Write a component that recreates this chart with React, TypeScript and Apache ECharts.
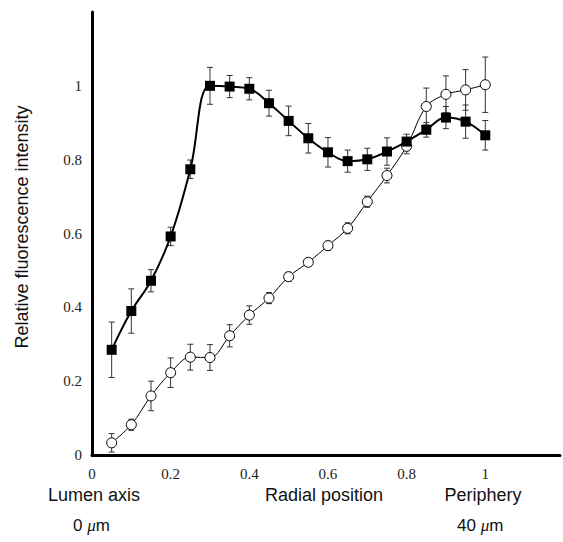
import React, { useEffect, useRef } from "react";
import * as echarts from "echarts";

const positions = [0.05, 0.1, 0.15, 0.2, 0.25, 0.3, 0.35, 0.4, 0.45, 0.5, 0.55, 0.6, 0.65, 0.7, 0.75, 0.8, 0.85, 0.9, 0.95, 1.0];
const squares = [0.285, 0.39, 0.472, 0.592, 0.774, 1.0, 0.998, 0.992, 0.953, 0.905, 0.858, 0.82, 0.796, 0.801, 0.822, 0.849, 0.881, 0.914, 0.903, 0.866];
const squareErr = [0.075, 0.06, 0.03, 0.025, 0.025, 0.05, 0.03, 0.03, 0.035, 0.04, 0.04, 0.04, 0.03, 0.03, 0.037, 0.02, 0.02, 0.03, 0.045, 0.04];
const circles = [0.033, 0.082, 0.16, 0.223, 0.265, 0.264, 0.323, 0.379, 0.425, 0.483, 0.522, 0.567, 0.614, 0.686, 0.757, 0.836, 0.944, 0.977, 0.989, 1.003];
const circleErr = [0.025, 0.015, 0.04, 0.04, 0.035, 0.035, 0.03, 0.025, 0.015, 0.012, 0.01, 0.012, 0.015, 0.015, 0.02, 0.02, 0.05, 0.05, 0.055, 0.075];
const xTicks = [0, 0.2, 0.4, 0.6, 0.8, 1];
const yTicks = [0, 0.2, 0.4, 0.6, 0.8, 1];

const SERIF = '"Liberation Serif", "DejaVu Serif", serif';
const SANS = '"Liberation Sans", Arial, sans-serif';

function errRender(params: any, api: any) {
  const x = api.value(0);
  const lo = api.coord([x, api.value(1)]);
  const hi = api.coord([x, api.value(2)]);
  const w = 3;
  const style = { stroke: "#333", lineWidth: 1 };
  return {
    type: "group",
    children: [
      { type: "line", shape: { x1: lo[0], y1: lo[1], x2: hi[0], y2: hi[1] }, style },
      { type: "line", shape: { x1: lo[0] - w, y1: lo[1], x2: lo[0] + w, y2: lo[1] }, style },
      { type: "line", shape: { x1: hi[0] - w, y1: hi[1], x2: hi[0] + w, y2: hi[1] }, style },
    ],
  };
}

export default function App() {
  const ref = useRef<HTMLDivElement>(null);
  useEffect(() => {
    if (!ref.current) return;
    const chart = echarts.init(ref.current, null, { renderer: "svg" });
    const sqData = positions.map((p, i) => [p, squares[i]]);
    const ciData = positions.map((p, i) => [p, circles[i]]);
    const sqErr = positions.map((p, i) => [p, squares[i] - squareErr[i], squares[i] + squareErr[i]]);
    const ciErr = positions.map((p, i) => [p, circles[i] - circleErr[i], circles[i] + circleErr[i]]);
    chart.setOption({
      animation: false,
      backgroundColor: "#fff",
      grid: { left: 92, right: 0, top: 12, bottom: 87, containLabel: false },
      xAxis: {
        type: "value",
        min: 0,
        max: 1.19,
        interval: 0.2,
        axisLine: { show: true, lineStyle: { color: "#000", width: 3 } },
        axisTick: { show: false },
        splitLine: { show: false },
        axisLabel: {
          color: "#222",
          fontFamily: SERIF,
          fontSize: 15,
          margin: 11,
          formatter: (v: number) => (xTicks.some((t) => Math.abs(t - v) < 1e-6) ? String(+v.toFixed(1)) : ""),
        },
      },
      yAxis: {
        type: "value",
        min: 0,
        max: 1.2,
        interval: 0.2,
        axisLine: { show: true, lineStyle: { color: "#000", width: 3 } },
        axisTick: { show: false },
        splitLine: { show: false },
        axisLabel: {
          color: "#222",
          fontFamily: SERIF,
          fontSize: 15,
          margin: 10,
          formatter: (v: number) => (yTicks.some((t) => Math.abs(t - v) < 1e-6) ? String(+v.toFixed(1)) : ""),
        },
      },
      series: [
        { type: "custom", renderItem: errRender, data: sqErr, z: 1, silent: true },
        { type: "custom", renderItem: errRender, data: ciErr, z: 1, silent: true },
        {
          type: "line",
          data: ciData,
          smooth: 0.35,
          symbol: "circle",
          symbolSize: 10,
          showAllSymbol: true,
          lineStyle: { color: "#000", width: 1 },
          itemStyle: { color: "#fff", borderColor: "#000", borderWidth: 1 },
          z: 2,
        },
        {
          type: "line",
          data: sqData,
          smooth: 0.4,
          symbol: "rect",
          symbolSize: 10,
          showAllSymbol: true,
          lineStyle: { color: "#000", width: 2 },
          itemStyle: { color: "#000" },
          z: 3,
        },
      ],
      graphic: [
        {
          type: "text",
          x: 22,
          y: 227,
          rotation: Math.PI / 2,
          style: {
            text: "Relative fluorescence intensity",
            fontFamily: SANS,
            fontSize: 18,
            fill: "#111",
            align: "center",
            verticalAlign: "middle",
          },
        },
        {
          type: "text",
          x: 94,
          y: 495,
          style: { text: "Lumen axis", fontFamily: SANS, fontSize: 18, fill: "#111", align: "center", verticalAlign: "middle" },
        },
        {
          type: "text",
          x: 324,
          y: 495,
          style: { text: "Radial position", fontFamily: SANS, fontSize: 18, fill: "#111", align: "center", verticalAlign: "middle" },
        },
        {
          type: "text",
          x: 483,
          y: 495,
          style: { text: "Periphery", fontFamily: SANS, fontSize: 18, fill: "#111", align: "center", verticalAlign: "middle" },
        },
        {
          type: "text",
          x: 73,
          y: 525,
          style: {
            text: "0 {m|μ}m",
            fontFamily: SANS,
            fontSize: 17,
            fill: "#111",
            align: "left",
            verticalAlign: "middle",
            rich: { m: { fontFamily: SERIF, fontStyle: "italic", fontSize: 17, fill: "#111" } },
          },
        },
        {
          type: "text",
          x: 457,
          y: 525,
          style: {
            text: "40 {m|μ}m",
            fontFamily: SANS,
            fontSize: 17,
            fill: "#111",
            align: "left",
            verticalAlign: "middle",
            rich: { m: { fontFamily: SERIF, fontStyle: "italic", fontSize: 17, fill: "#111" } },
          },
        },
      ],
    });
    return () => chart.dispose();
  }, []);
  return <div ref={ref} style={{ width: 563, height: 542, position: "absolute", left: 0, top: 0 }} />;
}
